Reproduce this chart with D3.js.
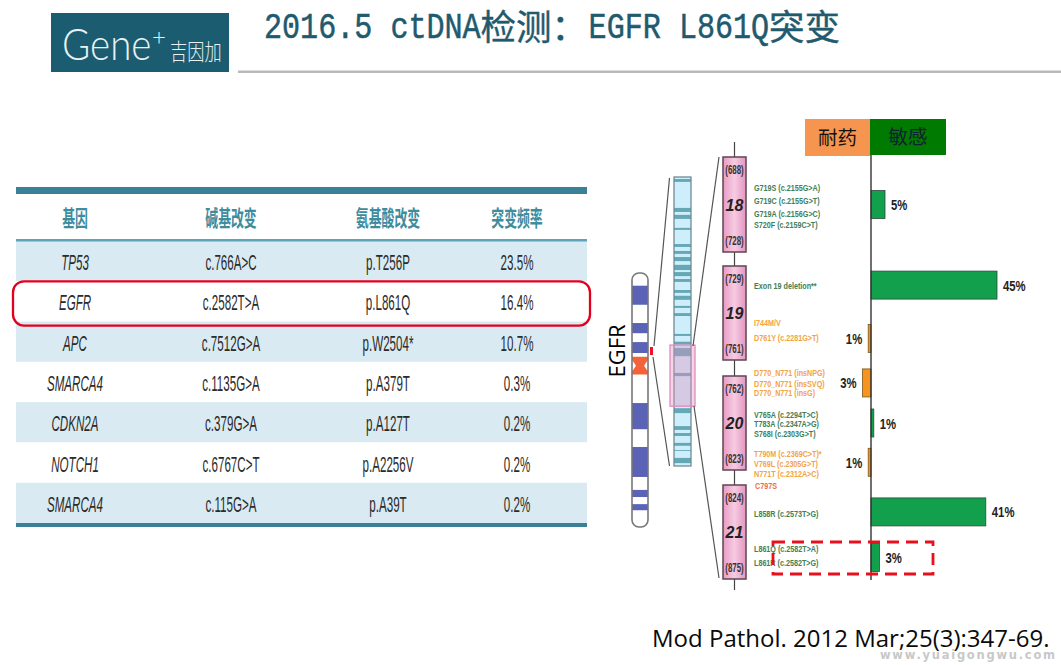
<!DOCTYPE html>
<html><head><meta charset="utf-8">
<script src="https://cdn.jsdelivr.net/npm/d3@7"></script>
<style>html,body{margin:0;padding:0;background:#fff;overflow:hidden}svg{display:block}</style>
</head><body><svg id="c" width="1061" height="665"></svg>
<script>
// ---------- data ----------
const titleParts = [["2016.5 ctDNA","l"],["检测：","c"],["EGFR L861Q","l"],["突变","c"]];
const tableHeaders = ["基因","碱基改变","氨基酸改变","突变频率"];
const genes = ["TP53","EGFR","APC","SMARCA4","CDKN2A","NOTCH1","SMARCA4"];
const baseChanges = ["c.766A>C","c.2582T>A","c.7512G>A","c.1135G>A","c.379G>A","c.6767C>T","c.115G>A"];
const aaChanges = ["p.T256P","p.L861Q","p.W2504*","p.A379T","p.A127T","p.A2256V","p.A39T"];
const frequencies = ["23.5%","16.4%","10.7%","0.3%","0.2%","0.2%","0.2%"];
const highlightedGene = "EGFR";

const exonNames = ["18","19","20","21"];
const exonStart = [688,729,762,824];
const exonEnd = [728,761,823,875];

// bar share (%), negative = resistant; codon = centre of the bar along the exon track
const barPercent = [5,45,-1,-3,1,-1,41,3];
const barCodon = [708,735.5,753.7,766.5,792.5,818,838.6,863.3];

const mutationLabels = ["G719S (c.2155G>A)","G719C (c.2155G>T)","G719A (c.2156G>C)","S720F (c.2159C>T)","Exon 19 deletion**","I744M/V","D761Y (c.2281G>T)","D770_N771 (insNPG)","D770_N771 (insSVQ)","D770_N771 (insG)","V765A (c.2294T>C)","T783A (c.2347A>G)","S768I (c.2303G>T)","T790M (c.2369C>T)*","V769L (c.2305G>T)","N771T (c.2312A>C)","C797S","L858R (c.2573T>G)","L861Q (c.2582T>A)","L861R (c.2582T>G)"];
const mutationCodon = [701,706.5,711.6,716.6,735.8,748.4,753.5,761.8,766.6,773,786.7,793.1,799.6,812,818.5,823.2,824.5,839.2,858.7,866.3];
const mutationClass = ["s","s","s","s","s","r","r","r","r","r","s","s","s","r","r","r","x","s","s","s"];

// chromosome ideogram bands, in percent of chromosome length
const chromBands = [[5,12.5],[19.7,23.7],[27.2,31.5],[51.2,61.5],[68.5,80.3],[85.4,88.2],[91,93.4]];
const centromere = [33,40];
// expanded region bands, in percent of column length
const detailBands = [[0.7,1.7],[10.7,12.1],[13.1,14.5],[17.6,18.3],[23.2,24.2],[25.6,26.6],[27.7,29.1],[30.4,32.2],[32.9,34.3],[35.3,36.3],[39.1,40.1],[41.1,42.5],[44.6,45.3],[47.1,48.1],[54.3,55],[57,58],[59.2,62],[67.8,68.9],[80,81.7],[86.2,87.5],[88.6,89.6],[92,93],[94.5,94.8],[97.2,99]];
const selection = [58.5,79.3];

const sourceText = "Mod Pathol. 2012 Mar;25(3):347-69.";
const watermark = "www.yuaigongwu.com";

// ---------- drawing ----------
const svg = d3.select("#c");
const CJK = '"Noto Sans CJK SC"';
const teal = "#1f5a6e";

// logo
svg.append("rect").attr("x",51).attr("y",13).attr("width",178).attr("height",59).attr("fill","#1c5c70");
svg.append("text").attr("transform","translate(62,60) scale(1.07,1.2)").attr("font-family","Lato").attr("font-weight",300)
  .attr("font-size",36).attr("fill","#e8f2f4").text("Gene");
svg.append("text").attr("x",152).attr("y",45).attr("font-family","Lato").attr("font-weight",300).attr("font-size",24).attr("fill","#e8f2f4").text("+");
svg.append("text").attr("transform","translate(170,60) scale(.86,1.15)").attr("font-family",CJK).attr("font-weight",300).attr("font-size",20).attr("fill","#e8f2f4").text("吉因加");

// title
let tx = 264;
titleParts.forEach(([s,k])=>{
  if(k==="l"){
    svg.append("text").attr("transform",`translate(${tx},38) scale(0.86,1.05)`).attr("font-family",'"Liberation Mono"')
      .attr("font-size",35).attr("stroke",teal).attr("stroke-width",.5).attr("fill",teal).style("white-space","pre").text(s);
    tx += s.length*18.05;
  } else {
    svg.append("text").attr("x",tx).attr("y",40).attr("font-family",CJK).attr("font-size",35.5).attr("font-weight",400).attr("stroke",teal).attr("stroke-width",.4).attr("fill",teal).text(s);
    tx += s.length*36;
  }
});
svg.append("rect").attr("x",238).attr("y",70.5).attr("width",823).attr("height",2.5).attr("fill","#b9b9b9");

// table
const rowY = d3.scaleBand().domain(d3.range(genes.length)).range([241,523]);
const colCenters = [75,231,388,517];
const tblX0 = 16, tblX1 = 587;
svg.selectAll(".rowbg").data(genes).join("rect").attr("x",tblX0).attr("width",tblX1-tblX0)
  .attr("y",(d,i)=>rowY(i)).attr("height",rowY.bandwidth()).attr("fill",(d,i)=>i%2===0?"#d9eaf2":"#fff");
svg.append("rect").attr("x",tblX0).attr("y",187).attr("width",tblX1-tblX0).attr("height",7).attr("fill","#3a8097");
svg.append("rect").attr("x",tblX0).attr("y",239).attr("width",tblX1-tblX0).attr("height",2.5).attr("fill","#5fa3b8");
svg.append("rect").attr("x",tblX0).attr("y",523).attr("width",tblX1-tblX0).attr("height",4).attr("fill","#3a8097");
tableHeaders.forEach((h,i)=>{
  svg.append("text").attr("transform",`translate(${colCenters[i]},226) scale(0.66,1.12)`).attr("text-anchor","middle")
    .attr("font-family",CJK).attr("font-weight",700).attr("font-size",19.5).attr("fill","#3f8c9e").text(h);
});
[genes,baseChanges,aaChanges,frequencies].forEach((col,c)=>{
  col.forEach((t,i)=>{
    svg.append("text").attr("transform",`translate(${colCenters[c]},${rowY(i)+rowY.bandwidth()/2+9}) scale(0.58,1.08)`)
      .attr("text-anchor","middle").attr("font-family",'"Liberation Sans"').attr("font-style",c===0?"italic":"normal")
      .attr("font-size",20).attr("fill","#2b2b2b").text(t);
  });
});
const hi = genes.indexOf(highlightedGene);
svg.append("rect").attr("x",13).attr("y",rowY(hi)).attr("width",577).attr("height",rowY.bandwidth()+4)
  .attr("rx",11).attr("fill","none").attr("stroke","#e6001f").attr("stroke-width",2.3);

// ideogram
const chromY = d3.scaleLinear().domain([0,100]).range([273,527]);
const chromX0=632, chromW=16;
svg.append("defs").html(`<clipPath id="cc"><rect x="${chromX0}" y="273" width="${chromW}" height="254" rx="7"/></clipPath>
 <linearGradient id="ex" x1="0" x2="1"><stop offset="0" stop-color="#e89ac4"/><stop offset=".5" stop-color="#f6cbe2"/><stop offset="1" stop-color="#e494bf"/></linearGradient>`);
const cg = svg.append("g").attr("clip-path","url(#cc)");
cg.selectAll("rect.b").data(chromBands).join("rect").attr("class","b").attr("x",chromX0).attr("width",chromW)
  .attr("y",d=>chromY(d[0])).attr("height",d=>chromY(d[1])-chromY(d[0])).attr("fill","#5a63b5");
const cTop=chromY(centromere[0]), cBot=chromY(centromere[1]), cMid=(cTop+cBot)/2;
cg.append("path").attr("d",`M${chromX0},${cTop}H${chromX0+chromW}V${cTop+3}L${chromX0+chromW-4},${cMid}L${chromX0+chromW},${cBot-3}V${cBot}H${chromX0}V${cBot-3}L${chromX0+4},${cMid}L${chromX0},${cTop+3}Z`).attr("fill","#f4623a");
svg.append("rect").attr("x",chromX0).attr("y",273).attr("width",chromW).attr("height",254).attr("rx",7).attr("fill","none").attr("stroke","#777").attr("stroke-width",1.6);
svg.append("rect").attr("x",650).attr("y",347).attr("width",3).attr("height",8).attr("fill","#f0102a");

// detail column
const detY = d3.scaleLinear().domain([0,100]).range([177,466]);
svg.append("rect").attr("x",674).attr("y",177).attr("width",17).attr("height",289).attr("fill","#cdeefa");
svg.selectAll("rect.d").data(detailBands).join("rect").attr("class","d").attr("x",674).attr("width",17)
  .attr("y",d=>detY(d[0])).attr("height",d=>detY(d[1])-detY(d[0])).attr("fill","#64a8b6");
svg.append("rect").attr("x",674).attr("y",177).attr("width",17).attr("height",289).attr("fill","none").attr("stroke","#6d8d94").attr("stroke-width",1.3);
svg.append("rect").attr("x",670).attr("y",detY(selection[0])-1).attr("width",25).attr("height",detY(selection[1])-detY(selection[0])+1)
  .attr("fill","#e58fc0").attr("fill-opacity",.38).attr("stroke","#e08cbc").attr("stroke-width",1.3);
const line=(x1,y1,x2,y2)=>svg.append("line").attr("x1",x1).attr("y1",y1).attr("x2",x2).attr("y2",y2).attr("stroke","#555").attr("stroke-width",1.2);
line(654,346,669.5,178); line(653,357,669.5,466); line(693,346,719,157); line(694,406,719,578);

// exon track
const codonY = d3.scaleLinear()
  .domain(exonStart.flatMap((s,i)=>[s,exonEnd[i]]))
  .range([157,252,266,360,376,470,485,579]);
const exonX=723, exonW=23, exonC=exonX+exonW/2;
[[142,157],[252,266],[360,376],[470,485],[579,590]].forEach(([a,b])=>svg.append("line").attr("x1",exonC).attr("x2",exonC).attr("y1",a).attr("y2",b).attr("stroke","#444").attr("stroke-width",1.2));
exonNames.forEach((n,i)=>{
  const y0=codonY(exonStart[i]), y1=codonY(exonEnd[i]);
  svg.append("rect").attr("x",exonX).attr("y",y0).attr("width",exonW).attr("height",y1-y0).attr("fill","url(#ex)").attr("stroke","#5c4650").attr("stroke-width",1.5);
  svg.append("text").attr("x",exonC).attr("y",(y0+y1)/2+6).attr("text-anchor","middle").attr("font-family",'"Liberation Sans"').attr("font-style","italic").attr("font-weight",700).attr("font-size",16).attr("fill","#222").text(n);
  [[exonStart[i],y0+17],[exonEnd[i],y1-7]].forEach(([c,y])=>svg.append("text").attr("transform",`translate(${exonC},${y}) scale(.72,1.1)`).attr("text-anchor","middle").attr("font-family",'"Liberation Sans"').attr("font-weight",700).attr("font-size",11).attr("fill","#333").text(`(${c})`));
});

// mutation labels
const labelCol={s:"#3f8058",r:"#f2a445",x:"#ee6a45"};
svg.selectAll("text.m").data(mutationLabels).join("text").attr("class","m")
  .attr("transform",(d,i)=>`translate(${mutationClass[i]==="x"?755:754},${codonY(mutationCodon[i])+3.5}) scale(.8,1)`)
  .attr("font-family",'"Liberation Sans"').attr("font-weight",700).attr("font-size",9)
  .attr("fill",(d,i)=>labelCol[mutationClass[i]]).text(d=>d);

// bars
const x = d3.scaleLinear().domain([0,45]).range([871,997]);
const barH = 28;
svg.append("rect").attr("x",805).attr("y",119).attr("width",65).attr("height",37).attr("fill","#f5954f");
svg.append("rect").attr("x",870).attr("y",119).attr("width",76).attr("height",36).attr("fill","#007a00");
svg.append("text").attr("x",837.5).attr("y",145).attr("text-anchor","middle").attr("font-family",CJK).attr("font-size",19.5).attr("fill","#111").text("耐药");
svg.append("text").attr("x",908).attr("y",144).attr("text-anchor","middle").attr("font-family",CJK).attr("font-size",19.5).attr("fill","#123").text("敏感");
svg.selectAll("rect.bar").data(barPercent).join("rect").attr("class","bar")
  .attr("x",d=>Math.min(x(0),x(d))).attr("width",d=>Math.abs(x(d)-x(0)))
  .attr("y",(d,i)=>codonY(barCodon[i])-barH/2).attr("height",barH)
  .attr("fill",d=>d>0?"#12a04c":"#f7941d").attr("stroke",d=>d>0?"#2e4a38":"#7a5414").attr("stroke-width",.8);
svg.selectAll("text.bl").data(barPercent).join("text").attr("class","bl")
  .attr("transform",(d,i)=>`translate(${d>0?x(d)+6:x(d)-6},${codonY(barCodon[i])+5.5}) scale(.78,1.05)`)
  .attr("text-anchor",d=>d>0?"start":"end").attr("font-family",'"Liberation Sans"').attr("font-weight",700).attr("font-size",14.5).attr("fill","#222")
  .text(d=>Math.abs(d)+"%");
svg.append("line").attr("x1",871).attr("x2",871).attr("y1",155).attr("y2",580).attr("stroke","#333").attr("stroke-width",1.4);

// dashed highlight
svg.append("rect").attr("x",773).attr("y",542).attr("width",160).attr("height",32).attr("fill","none").attr("stroke","#e8101c").attr("stroke-width",2.8).attr("stroke-dasharray","12 7");

// rotated gene label
svg.append("text").attr("transform","translate(625,351) rotate(-90)").attr("text-anchor","middle").attr("font-family",'"Open Sans"').attr("font-size",22).attr("fill","#000").text("EGFR");

// source and watermark
svg.append("text").attr("x",652).attr("y",647).attr("font-family",'"Open Sans"').attr("font-size",24).attr("fill","#0a0a0a").text(sourceText);
svg.append("text").attr("x",880).attr("y",659).attr("font-family",'"DejaVu Sans"').attr("font-weight",700).attr("font-size",11.5).attr("letter-spacing",1.75).attr("fill","#c8c8c8").text(watermark);
</script></body></html>
